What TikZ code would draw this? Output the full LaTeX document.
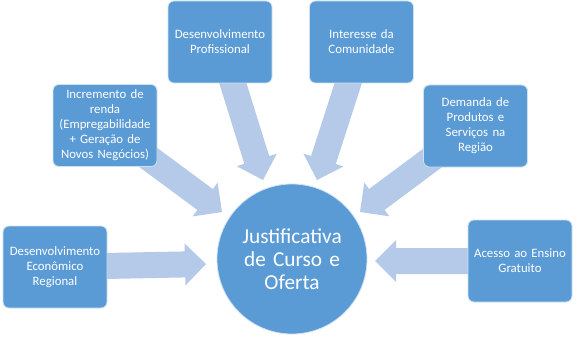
\documentclass[tikz,border=0pt]{standalone}
\usepackage{fontspec}
\setmainfont{Carlito}
\usetikzlibrary{calc,backgrounds}
\definecolor{boxblue}{RGB}{91,155,213}
\definecolor{arrowc}{RGB}{181,201,232}
\tikzset{
  srcbox/.style={fill=boxblue, draw=white!70!boxblue, line width=0.8pt, rounded corners=6pt,
    minimum width=104pt, minimum height=82pt, text width=102pt, inner sep=0pt,
    align=center, text=white, font=\fontsize{12.8}{15}\selectfont},
  hub/.style={circle, fill=boxblue, draw=white!70!boxblue, line width=0.8pt, minimum size=150pt,
    text width=124pt, align=center, text=white, inner sep=0pt, font=\fontsize{21.3}{23}\selectfont}
}
\newcommand\blockarrow[2]{%
  \coordinate (nk) at ($(#2)!21pt!(#1.center)$);
  \fill[arrowc] ($(#1.center)!13pt!90:(#2)$) -- ($(nk)!13pt!90:(#2)$) -- ($(nk)!21pt!90:(#2)$) -- (#2)
     -- ($(nk)!21pt!-90:(#2)$) -- ($(nk)!13pt!-90:(#2)$) -- ($(#1.center)!13pt!-90:(#2)$) -- cycle;}
\begin{document}
\begin{tikzpicture}[x=1pt,y=-1pt]
\useasboundingbox (0,0) rectangle (579,337);
\node[hub] (hub) at (292,259) {Justificativa\\de Curso e\\Oferta};
\node[srcbox] (econ) at (55,267) {Desenvolvimento\\Econômico\\Regional};
\node[srcbox] (incr) at (105,125.5) {Incremento de\\renda\\(Empregabilidade\\+ Geração de\\Novos Negócios)};
\node[srcbox] (prof) at (220,42) {Desenvolvimento\\Profissional};
\node[srcbox] (inter) at (361.5,42) {Interesse da\\Comunidade};
\node[srcbox] (dem) at (475.5,126) {Demanda de\\Produtos e\\Serviços na\\Região};
\node[srcbox] (aces) at (520,261) {Acesso ao Ensino\\Gratuito};
\coordinate (tEcon) at (206,264);
\coordinate (tIncr) at (222,212);
\coordinate (tProf) at (263,180);
\coordinate (tInter) at (317,180);
\coordinate (tDem) at (360,212);
\coordinate (tAces) at (375,261);
\begin{scope}[on background layer]
\fill[white] (0,0) rectangle (579,337);
\blockarrow{econ}{tEcon}
\blockarrow{incr}{tIncr}
\blockarrow{prof}{tProf}
\blockarrow{inter}{tInter}
\blockarrow{dem}{tDem}
\blockarrow{aces}{tAces}
\end{scope}
\end{tikzpicture}
\end{document}
